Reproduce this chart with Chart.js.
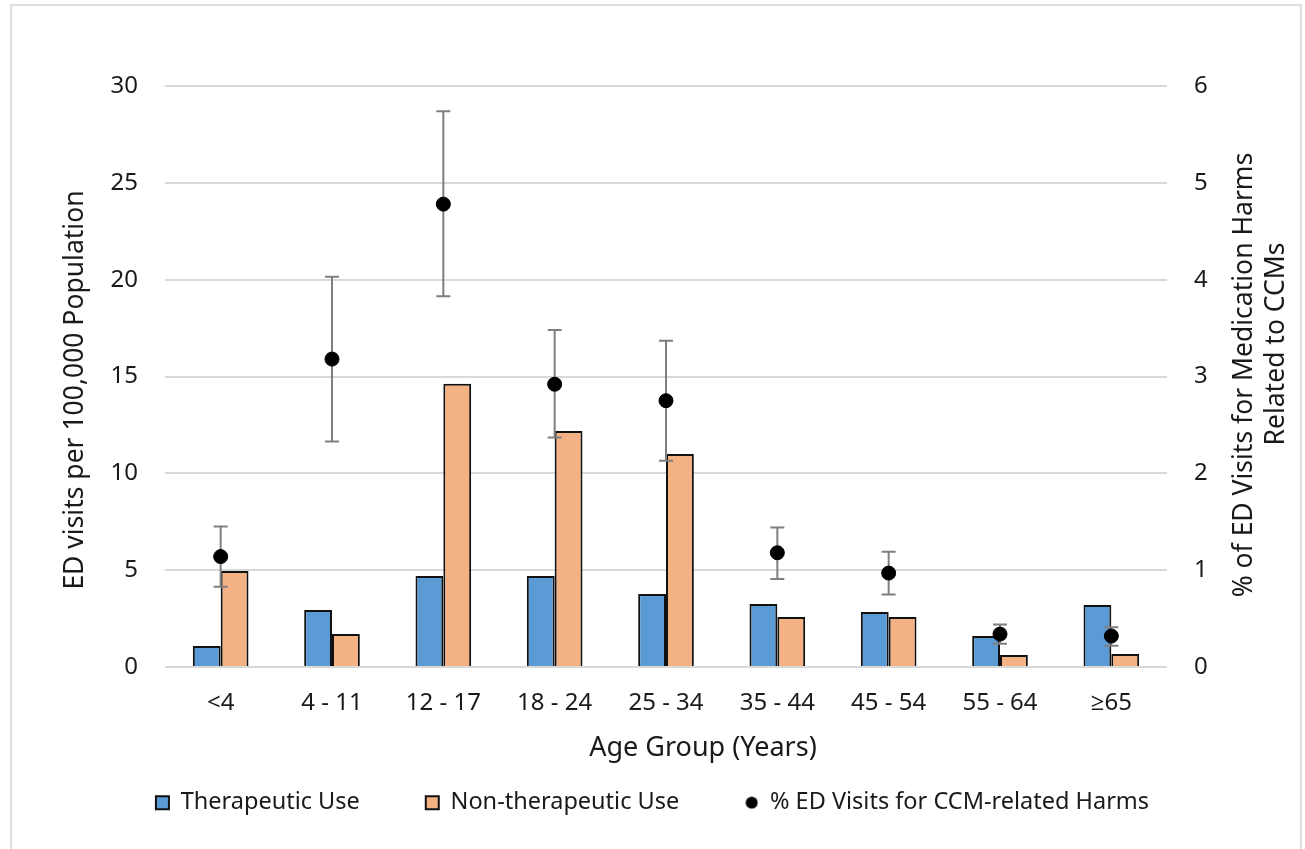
<!DOCTYPE html>
<html>
<head>
<meta charset="utf-8">
<title>ED visits by age group</title>
<script src="https://cdn.jsdelivr.net/npm/chart.js@4.4.1/dist/chart.umd.min.js"></script>
<style>
    html, body { margin: 0; padding: 0; background: #fff; }
    #wrap { position: relative; width: 1305px; height: 849px; }
</style>
</head>
<body>
<div id="wrap"><canvas id="chart" width="1305" height="849"></canvas></div>
<script>
// Data
const ageGroups = ['<4', '4 - 11', '12 - 17', '18 - 24', '25 - 34', '35 - 44', '45 - 54', '55 - 64', '≥65'];
const therapeutic = [1.08, 2.94, 4.70, 4.70, 3.77, 3.25, 2.84, 1.60, 3.20];
const nonTherapeutic = [4.96, 1.70, 14.63, 12.18, 11.0, 2.58, 2.58, 0.62, 0.67];
const pctCCM = [1.14, 3.18, 4.78, 2.92, 2.75, 1.18, 0.97, 0.34, 0.32];
const pctLow = [0.83, 2.33, 3.83, 2.37, 2.13, 0.91, 0.75, 0.24, 0.22];
const pctHigh = [1.45, 4.03, 5.74, 3.48, 3.37, 1.44, 1.19, 0.44, 0.41];
const leftTicks = [0, 5, 10, 15, 20, 25, 30];
const rightTicks = [0, 1, 2, 3, 4, 5, 6];

const FONT = "'Noto Sans', 'Open Sans', sans-serif";
const textColor = '#1a1a1a';
const gridColor = '#d9d9d9';

// small round icon for the legend
function dotIcon(size) {
    const c = document.createElement('canvas');
    c.width = size; c.height = size;
    const g = c.getContext('2d');
    g.fillStyle = '#000';
    g.beginPath();
    g.arc(size / 2, size / 2, size / 2 - 0.5, 0, Math.PI * 2);
    g.fill();
    return c;
}

// Error bars under the black points
const errorBars = {
    id: 'errorBars',
    beforeDatasetDraw(chart, args) {
        if (args.index !== 2) return;
        const ctx = chart.ctx;
        const x = chart.scales.x;
        const y1 = chart.scales.y1;
        ctx.save();
        ctx.strokeStyle = '#7f7f7f';
        ctx.lineWidth = 2;
        pctCCM.forEach((v, i) => {
            const px = x.getPixelForValue(i);
            const top = y1.getPixelForValue(pctHigh[i]);
            const bot = y1.getPixelForValue(pctLow[i]);
            ctx.beginPath();
            ctx.moveTo(px, top); ctx.lineTo(px, bot);
            ctx.moveTo(px - 7, top); ctx.lineTo(px + 7, top);
            ctx.moveTo(px - 7, bot); ctx.lineTo(px + 7, bot);
            ctx.stroke();
        });
        ctx.restore();
    }
};

// Frame and axis titles (both side titles read bottom to top)
const frame = {
    id: 'frame',
    beforeDraw(chart) {
        const ctx = chart.ctx;
        ctx.save();
        ctx.fillStyle = '#fff';
        ctx.fillRect(0, 0, chart.width, chart.height);
        ctx.strokeStyle = '#dedede';
        ctx.lineWidth = 2;
        ctx.strokeRect(11, 5, 1290, 870);
        ctx.restore();
    },
    afterDraw(chart) {
        const ctx = chart.ctx;
        ctx.save();
        ctx.fillStyle = textColor;
        ctx.textAlign = 'center';
        ctx.textBaseline = 'middle';

        ctx.font = '27px ' + FONT;
        ctx.fillText('Age Group (Years)', 703, 748);

        ctx.font = '26.5px ' + FONT;
        ctx.save();
        ctx.translate(75, 390);
        ctx.rotate(-Math.PI / 2);
        ctx.fillText('ED visits per 100,000 Population', 0, 0);
        ctx.restore();

        ctx.save();
        ctx.translate(1244, 375);
        ctx.rotate(-Math.PI / 2);
        ctx.fillText('% of ED Visits for Medication Harms', 0, 0);
        ctx.fillText('Related to CCMs', 31, 32);
        ctx.restore();

        ctx.restore();
    }
};

new Chart(document.getElementById('chart'), {
    data: {
        labels: ageGroups,
        datasets: [{
            type: 'bar',
            label: 'Therapeutic Use',
            data: therapeutic,
            backgroundColor: '#5b9bd5',
            borderColor: '#111',
            borderWidth: 2,
            yAxisID: 'y',
            order: 1
        }, {
            type: 'bar',
            label: 'Non-therapeutic Use',
            data: nonTherapeutic,
            backgroundColor: '#f4b183',
            borderColor: '#111',
            borderWidth: 2,
            yAxisID: 'y',
            order: 2
        }, {
            type: 'line',
            label: '% ED Visits for CCM-related Harms',
            data: pctCCM,
            showLine: false,
            pointRadius: 7,
            pointHoverRadius: 7,
            pointBackgroundColor: '#000',
            pointBorderColor: '#000',
            pointStyle: 'circle',
            yAxisID: 'y1',
            order: 0
        }]
    },
    options: {
        responsive: false,
        animation: false,
        layout: { padding: { top: 86, left: 0, right: 0, bottom: 24.5 } },
        datasets: {
            bar: { categoryPercentage: 0.5, barPercentage: 1.0 }
        },
        scales: {
            x: {
                grid: { display: false },
                border: { display: false },
                ticks: { color: textColor, font: { family: FONT, size: 24 }, padding: 14, maxRotation: 0 },
                afterFit: s => { s.height = 58; }
            },
            y: {
                position: 'left',
                min: 0, max: 30,
                afterBuildTicks: s => { s.ticks = leftTicks.map(v => ({ value: v })); },
                grid: { color: gridColor, lineWidth: 2, drawTicks: false },
                border: { display: false },
                ticks: { color: textColor, font: { family: FONT, size: 24 }, padding: 27 },
                afterFit: s => { s.width = 165; }
            },
            y1: {
                position: 'right',
                min: 0, max: 6,
                afterBuildTicks: s => { s.ticks = rightTicks.map(v => ({ value: v })); },
                grid: { display: false, drawTicks: false },
                border: { display: false },
                ticks: { color: textColor, font: { family: FONT, size: 24 }, padding: 27 },
                afterFit: s => { s.width = 138; }
            }
        },
        plugins: {
            legend: {
                position: 'bottom',
                labels: {
                    color: textColor,
                    font: { family: FONT, size: 23.5 },
                    usePointStyle: true,
                    boxWidth: 13,
                    boxHeight: 13,
                    padding: 66,
                    generateLabels(chart) {
                        return chart.data.datasets.map((ds, i) => ({
                            text: ds.label,
                            datasetIndex: i,
                            fillStyle: ds.type === 'bar' ? ds.backgroundColor : '#000',
                            strokeStyle: '#111',
                            lineWidth: ds.type === 'bar' ? 2 : 0,
                            pointStyle: ds.type === 'bar' ? 'rect' : dotIcon(13),
                            fontColor: textColor,
                            hidden: false
                        }));
                    }
                }
            },
            tooltip: { enabled: false }
        }
    },
    plugins: [errorBars, frame]
});
</script>
</body>
</html>
